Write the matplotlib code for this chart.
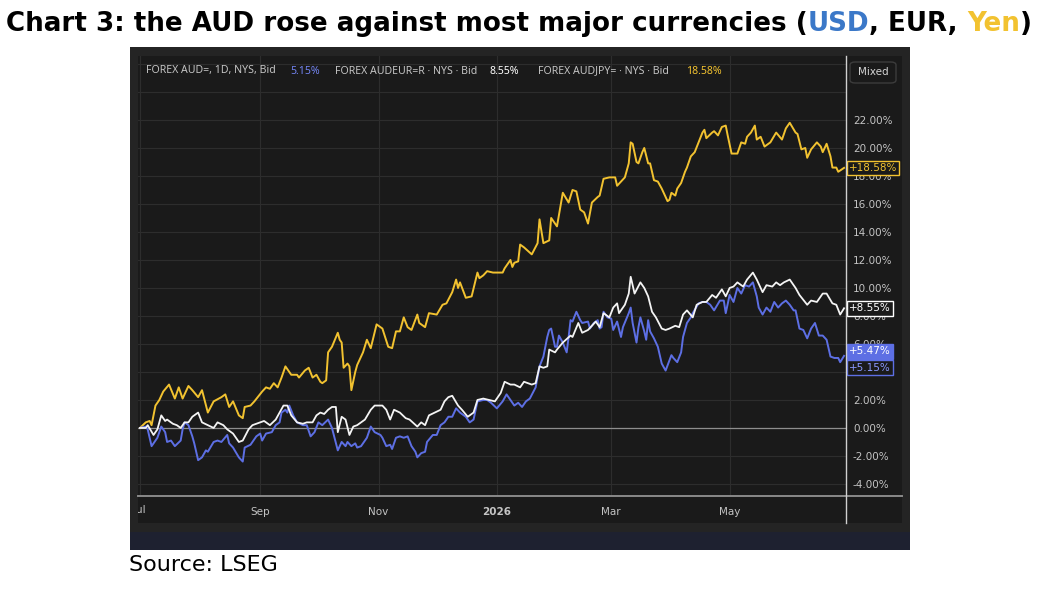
import matplotlib
matplotlib.use('Agg')
import matplotlib.pyplot as plt
import matplotlib.dates as mdates
import matplotlib.transforms as mtrans
from matplotlib.patches import Rectangle, FancyBboxPatch
import pandas as pd

# ── DATA ──
# % change since 1 Jul 2025, x given as days after START
START = '2025-07-01'

jpy_days = [0, 3, 5, 6, 8, 10, 12, 15, 18, 20, 22, 25, 27, 30, 32, 35, 38, 42, 44, 46,
            48, 51, 53, 54, 57, 59, 63, 65, 67, 69, 71, 73, 75, 78, 81, 82, 85, 87, 89, 91,
            93, 94, 96, 97, 99, 102, 103, 104, 105, 107, 108, 109, 111, 112, 115, 117, 119, 122, 125, 128,
            130, 132, 134, 136, 138, 140, 143, 144, 147, 149, 153, 156, 158, 161, 163, 164, 165, 168, 171, 174,
            175, 177, 179, 182, 187, 188, 191, 192, 193, 195, 196, 198, 202, 205, 206, 208, 211, 212, 215, 218,
            221, 223, 225, 227, 229, 231, 233, 236, 237, 239, 242, 245, 246, 248, 250, 252, 253, 254, 256, 257,
            259, 260, 262, 263, 265, 267, 269, 272, 273, 274, 276, 277, 279, 281, 282, 284, 286, 288, 290, 291,
            292, 295, 296, 298, 300, 302, 303, 305, 308, 310, 312, 313, 315, 317, 318, 320, 322, 325, 328, 331,
            333, 335, 338, 339, 341, 343, 344, 346, 349, 351, 352, 354, 356, 357, 359, 360, 363]
jpy_vals = [0.0, 0.4, 0.5, 0.2, 1.6, 2.0, 2.6, 3.1, 2.1, 2.9, 2.1, 3.0, 2.7, 2.2, 2.7, 1.1, 1.9, 2.2, 2.4, 1.5,
            1.9, 0.9, 0.7, 1.5, 1.6, 1.9, 2.6, 2.9, 2.8, 3.2, 2.9, 3.6, 4.4, 3.8, 3.8, 3.6, 4.1, 4.3, 3.6, 3.8,
            3.3, 3.2, 3.4, 5.4, 5.8, 6.8, 6.3, 6.1, 4.3, 4.6, 4.4, 2.7, 4.0, 4.5, 5.4, 6.3, 5.7, 7.4, 7.1, 5.8,
            5.7, 6.9, 6.9, 7.9, 7.2, 7.0, 8.1, 7.5, 7.2, 8.2, 8.1, 8.8, 8.9, 9.7, 10.6, 10.0, 10.4, 9.3, 9.4, 11.1,
            10.7, 10.9, 11.2, 11.1, 11.1, 11.4, 12.0, 11.5, 11.8, 11.9, 13.1, 12.9, 12.4, 13.2, 14.9, 13.2, 13.4, 15.0, 14.4, 16.8,
            16.1, 17.0, 16.9, 15.6, 15.4, 14.6, 16.1, 16.5, 16.6, 17.8, 17.9, 17.9, 17.3, 17.6, 17.9, 18.9, 20.4, 20.3, 19.0, 18.9,
            19.7, 20.0, 18.9, 18.9, 17.7, 17.6, 17.1, 16.2, 16.3, 16.8, 16.6, 17.1, 17.5, 18.3, 18.6, 19.4, 19.7, 20.4, 21.1, 21.3,
            20.7, 21.1, 21.2, 20.9, 21.5, 21.6, 20.9, 19.6, 19.6, 20.4, 20.3, 20.8, 21.1, 21.6, 20.6, 20.8, 20.1, 20.4, 21.1, 20.6,
            21.4, 21.8, 21.1, 21.0, 19.9, 20.0, 19.3, 19.9, 20.4, 20.1, 19.7, 20.3, 19.4, 18.6, 18.6, 18.3, 18.58]

eur_days = [0, 3, 4, 7, 9, 11, 13, 14, 17, 19, 21, 23, 25, 27, 30, 32, 35, 38, 40, 43,
            45, 48, 51, 53, 56, 58, 62, 64, 67, 70, 72, 74, 76, 78, 81, 84, 86, 89, 91, 93,
            95, 97, 99, 101, 102, 104, 106, 108, 110, 112, 114, 116, 119, 121, 125, 127, 129, 131, 134, 137,
            139, 143, 145, 147, 149, 152, 155, 157, 159, 161, 164, 166, 169, 172, 174, 177, 180, 183, 186, 188,
            191, 193, 196, 198, 202, 204, 206, 208, 210, 211, 214, 215, 218, 222, 223, 226, 228, 231, 235, 237,
            239, 242, 244, 246, 247, 250, 252, 253, 255, 258, 260, 262, 264, 266, 269, 271, 273, 276, 278, 280,
            282, 285, 287, 290, 292, 295, 297, 300, 302, 304, 306, 308, 311, 313, 316, 318, 321, 323, 326, 328,
            330, 332, 335, 338, 340, 344, 346, 349, 352, 354, 357, 359, 361, 363]
eur_vals = [0.0, 0.0, 0.2, -0.5, -0.1, 0.9, 0.5, 0.6, 0.3, 0.2, 0.0, 0.4, 0.4, 0.8, 1.1, 0.4, 0.2, 0.0, 0.4, 0.2,
            -0.1, -0.4, -1.0, -0.9, -0.1, 0.2, 0.4, 0.5, 0.2, 0.6, 1.1, 1.6, 1.6, 0.9, 0.4, 0.3, 0.4, 0.4, 0.9, 1.1,
            1.0, 1.3, 1.5, 1.5, -0.3, 0.8, 0.6, -0.5, 0.1, 0.2, 0.4, 0.6, 1.3, 1.6, 1.6, 1.3, 0.6, 1.3, 1.1, 0.7,
            0.6, 0.1, 0.4, 0.2, 0.9, 1.1, 1.3, 1.9, 2.2, 2.3, 1.6, 1.3, 0.8, 1.1, 2.0, 2.1, 2.0, 1.9, 2.5, 3.3,
            3.1, 3.1, 2.9, 3.3, 3.1, 3.2, 4.4, 4.3, 4.4, 5.6, 5.4, 5.6, 6.1, 6.6, 6.5, 7.5, 6.8, 7.0, 7.6, 7.2,
            8.2, 7.9, 8.6, 8.9, 8.2, 8.8, 9.6, 10.8, 9.6, 10.4, 10.0, 9.4, 8.3, 7.9, 7.1, 7.0, 7.1, 7.3, 7.2, 8.1,
            8.4, 7.9, 8.8, 9.0, 9.0, 9.5, 9.3, 9.9, 9.4, 10.0, 10.1, 10.4, 10.1, 10.6, 11.1, 10.6, 9.7, 10.2, 10.1, 10.4,
            10.2, 10.4, 10.6, 10.0, 9.5, 8.8, 9.1, 9.0, 9.6, 9.6, 8.9, 8.8, 8.1, 8.55]

usd_days = [0, 3, 4, 6, 8, 9, 11, 13, 14, 16, 18, 21, 22, 23, 25, 27, 28, 30, 32, 34,
            35, 38, 40, 42, 45, 46, 48, 51, 53, 54, 57, 58, 60, 62, 63, 65, 68, 70, 72, 73,
            75, 76, 77, 79, 81, 84, 86, 88, 90, 92, 94, 97, 99, 102, 104, 106, 107, 109, 111, 112,
            114, 117, 119, 121, 124, 125, 127, 129, 130, 132, 134, 136, 138, 140, 142, 143, 145, 147, 148, 151,
            153, 155, 157, 159, 161, 163, 165, 168, 170, 172, 174, 177, 179, 181, 184, 187, 189, 191, 193, 195,
            197, 199, 201, 204, 206, 208, 210, 211, 212, 214, 215, 216, 218, 220, 221, 222, 223, 225, 227, 228,
            231, 232, 234, 236, 237, 238, 239, 241, 243, 244, 246, 248, 249, 252, 253, 254, 256, 257, 258, 260,
            261, 262, 263, 265, 267, 269, 271, 274, 275, 277, 279, 280, 282, 284, 285, 288, 290, 292, 294, 296,
            299, 301, 302, 304, 306, 308, 310, 312, 314, 316, 318, 319, 321, 323, 325, 327, 329, 331, 333, 335,
            337, 338, 340, 342, 344, 346, 348, 350, 352, 354, 356, 358, 360, 361, 363]
usd_vals = [0.0, 0.1, -0.1, -1.3, -0.9, -0.7, 0.1, -0.3, -1.0, -0.9, -1.3, -0.9, -0.1, 0.4, 0.2, -0.6, -1.1, -2.3, -2.1, -1.6,
            -1.7, -1.0, -0.9, -1.0, -0.5, -1.1, -1.4, -2.1, -2.4, -1.4, -1.2, -1.0, -0.6, -0.4, -0.9, -0.4, -0.3, 0.2, 0.4, 1.1,
            1.3, 1.1, 1.6, 0.9, 0.4, 0.2, 0.2, -0.6, -0.3, 0.4, 0.2, 0.6, 0.0, -1.6, -1.0, -1.3, -1.0, -1.3, -1.1, -1.4,
            -1.3, -0.7, 0.1, -0.3, -0.5, -0.7, -1.3, -1.2, -1.5, -0.7, -0.6, -0.7, -0.6, -1.3, -1.7, -2.1, -1.8, -1.7, -1.0, -0.5,
            -0.5, 0.2, 0.4, 0.8, 0.8, 1.4, 1.1, 0.8, 0.4, 0.6, 1.9, 2.0, 2.0, 1.8, 1.4, 1.9, 2.4, 2.0, 1.6, 1.8,
            1.5, 1.9, 2.1, 2.9, 4.4, 5.1, 6.5, 7.0, 7.1, 5.8, 5.8, 6.6, 6.1, 5.4, 6.5, 7.7, 7.6, 8.3, 7.7, 7.5,
            7.6, 7.1, 7.5, 7.7, 7.1, 7.2, 8.3, 7.9, 7.8, 7.0, 7.6, 6.5, 7.2, 8.2, 8.6, 7.5, 6.1, 7.2, 7.9, 6.9,
            6.3, 7.7, 6.9, 6.4, 5.8, 4.6, 4.1, 5.2, 5.0, 4.7, 5.4, 6.5, 7.5, 7.9, 8.2, 8.9, 9.0, 9.0, 8.8, 8.4,
            9.1, 9.1, 8.2, 9.5, 9.0, 10.0, 9.6, 10.2, 10.1, 10.4, 9.4, 8.6, 8.1, 8.6, 8.3, 9.0, 8.6, 8.9, 9.1, 8.8,
            8.4, 8.4, 7.1, 7.0, 6.4, 7.1, 7.5, 6.6, 6.6, 6.3, 5.1, 5.0, 5.0, 4.7, 5.15]

usd_last_label = 5.47   # cursor price tag shown in filled blue
month_ticks = ['2025-07-01', '2025-09-01', '2025-11-01', '2026-01-01', '2026-03-01', '2026-05-01']
month_labels = ['Jul', 'Sep', 'Nov', '2026', 'Mar', 'May']
y_ticks = list(range(-4, 27, 2))

# ── COLOURS ──
YEL = '#f2c230'
WHT = '#f4f4f4'
BLU = '#5d6fe4'
BG = '#1a1a1a'
FRAME = '#242424'
TXT = '#c4c4c4'

W, H = 1048, 592


def fx(px):
    return px / W


def fy(py):
    return 1 - py / H


def to_dates(days):
    return pd.Timestamp(START) + pd.to_timedelta(days, unit='D')


fig = plt.figure(figsize=(W / 100, H / 100), dpi=100, facecolor='white')

# dark panel + navy strip at the bottom (behind the axes)
fig.patches.append(Rectangle((fx(130), fy(532)), fx(780), 485 / H, transform=fig.transFigure,
                             facecolor=FRAME, edgecolor='none', zorder=-3))
fig.patches.append(Rectangle((fx(130), fy(550)), fx(780), 18 / H, transform=fig.transFigure,
                             facecolor='#1e2130', edgecolor='none', zorder=-3))
fig.patches.append(Rectangle((fx(138), fy(523)), fx(764), 467 / H, transform=fig.transFigure,
                             facecolor=BG, edgecolor='none', zorder=-2))

# ── PLOT AREA ──
ax = fig.add_axes([fx(138), fy(496), fx(708), 440 / H])
ax.set_facecolor(BG)
for s in ax.spines.values():
    s.set_visible(False)

ax.plot(to_dates(jpy_days), jpy_vals, color=YEL, lw=1.4, zorder=3)
ax.plot(to_dates(usd_days), usd_vals, color=BLU, lw=1.4, zorder=4)
ax.plot(to_dates(eur_days), eur_vals, color=WHT, lw=1.3, zorder=5)
ax.axhline(0, color='#8e8e8e', lw=0.9, zorder=2)

ax.set_xlim(to_dates([-1])[0], to_dates([364])[0])
ax.set_ylim(-4.86, 26.57)

ax.set_yticks(y_ticks)
ax.set_yticklabels([f'{v:.2f}%' if v <= 22 else '' for v in y_ticks])
ax.yaxis.tick_right()
ax.tick_params(axis='y', length=0, pad=5, labelsize=7.5, labelcolor=TXT)

tick_dates = pd.to_datetime(month_ticks)
ax.set_xticks(tick_dates)
ax.set_xticklabels([''] + month_labels[1:])
ax.tick_params(axis='x', length=0, pad=8, labelsize=7.5, labelcolor=TXT)
ax.get_xticklabels()[3].set_fontweight('bold')
ax.grid(True, color='#2d2d2d', lw=0.8, zorder=0)

# "Jul" is cut off by the panel edge in the original
jul = fig.text(mdates.date2num(tick_dates[0]), fy(510), month_labels[0],
               transform=mtrans.blended_transform_factory(ax.transData, fig.transFigure),
               ha='center', va='center', fontsize=7.5, color=TXT)
jul.set_clip_box(mtrans.TransformedBbox(mtrans.Bbox.from_extents(fx(138), 0, 1, 1), fig.transFigure))
jul.set_clip_on(True)

# x axis line and right separator
fig.add_artist(plt.Line2D([fx(138), fx(902)], [fy(496), fy(496)], color='#8a8a8a', lw=1.4))
fig.add_artist(plt.Line2D([fx(846), fx(846)], [fy(56), fy(523)], color='#d0d0d0', lw=1))

# ── PRICE TAGS ──
tag_tr = mtrans.blended_transform_factory(ax.transAxes, ax.transData)
tag_kw = dict(transform=tag_tr, ha='left', va='center', fontsize=7.5, zorder=10, clip_on=False)
ax.text(1.004, jpy_vals[-1], f'+{jpy_vals[-1]:.2f}%', color=YEL,
        bbox=dict(boxstyle='square,pad=0.22', fc=BG, ec=YEL, lw=1), **tag_kw)
ax.text(1.004, eur_vals[-1], f'+{eur_vals[-1]:.2f}%', color='white',
        bbox=dict(boxstyle='square,pad=0.22', fc=BG, ec='white', lw=1), **tag_kw)
ax.text(1.004, usd_last_label, f'+{usd_last_label:.2f}%', color='white',
        bbox=dict(boxstyle='square,pad=0.22', fc=BLU, ec=BLU, lw=1), **tag_kw)
ax.annotate(f'+{usd_vals[-1]:.2f}%', xy=(1.004, usd_vals[-1]), xycoords=tag_tr,
            xytext=(0, -8.5), textcoords='offset points', ha='left', va='center',
            fontsize=7.5, color='#8a98ff', zorder=10, annotation_clip=False,
            bbox=dict(boxstyle='square,pad=0.22', fc=BG, ec=BLU, lw=1))

# ── HEADER ROW ──
hdr = dict(fontsize=7.6, va='center', family='Noto Sans')
fig.text(fx(146), fy(71), 'FOREX AUD=, 1D, NYS, Bid', color=TXT, **hdr)
fig.text(fx(290), fy(71), f'{usd_vals[-1]:.2f}%', color='#7283f0', **hdr)
fig.text(fx(335), fy(71), 'FOREX AUDEUR=R · NYS · Bid', color=TXT, **hdr)
fig.text(fx(489), fy(71), f'{eur_vals[-1]:.2f}%', color='white', fontweight='bold', **hdr)
fig.text(fx(538), fy(71), 'FOREX AUDJPY= · NYS · Bid', color=TXT, **hdr)
fig.text(fx(686), fy(71), f'{jpy_vals[-1]:.2f}%', color=YEL, fontweight='bold', **hdr)

fig.patches.append(FancyBboxPatch((fx(850), fy(83)), fx(46), 21 / H, transform=fig.transFigure,
                                  boxstyle='round,pad=0,rounding_size=0.005',
                                  fc=BG, ec='#3c3c3c', lw=1, zorder=5))
fig.text(fx(873), fy(72), 'Mixed', color='#d4d4d4', ha='center', va='center', fontsize=7.5, zorder=6)

# ── TITLE (coloured words) ──
pieces = [('Chart 3: the AUD rose against most major currencies (', 'black'),
          ('USD', '#3b78c8'), (', EUR, ', 'black'), ('Yen', '#f2c230'), (')', 'black')]
renderer = fig.canvas.get_renderer()
x = fx(6)
for txt, col in pieces:
    t = fig.text(x, fy(31), txt, color=col, fontsize=18.8, fontweight='bold',
                 family='DejaVu Sans', va='baseline', ha='left')
    bb = t.get_window_extent(renderer=renderer)
    x += bb.width / W

fig.text(fx(129), fy(571), 'Source: LSEG', fontsize=16, family='DejaVu Sans', va='baseline', color='black')

fig.savefig('out.png', dpi=100, facecolor='white')
